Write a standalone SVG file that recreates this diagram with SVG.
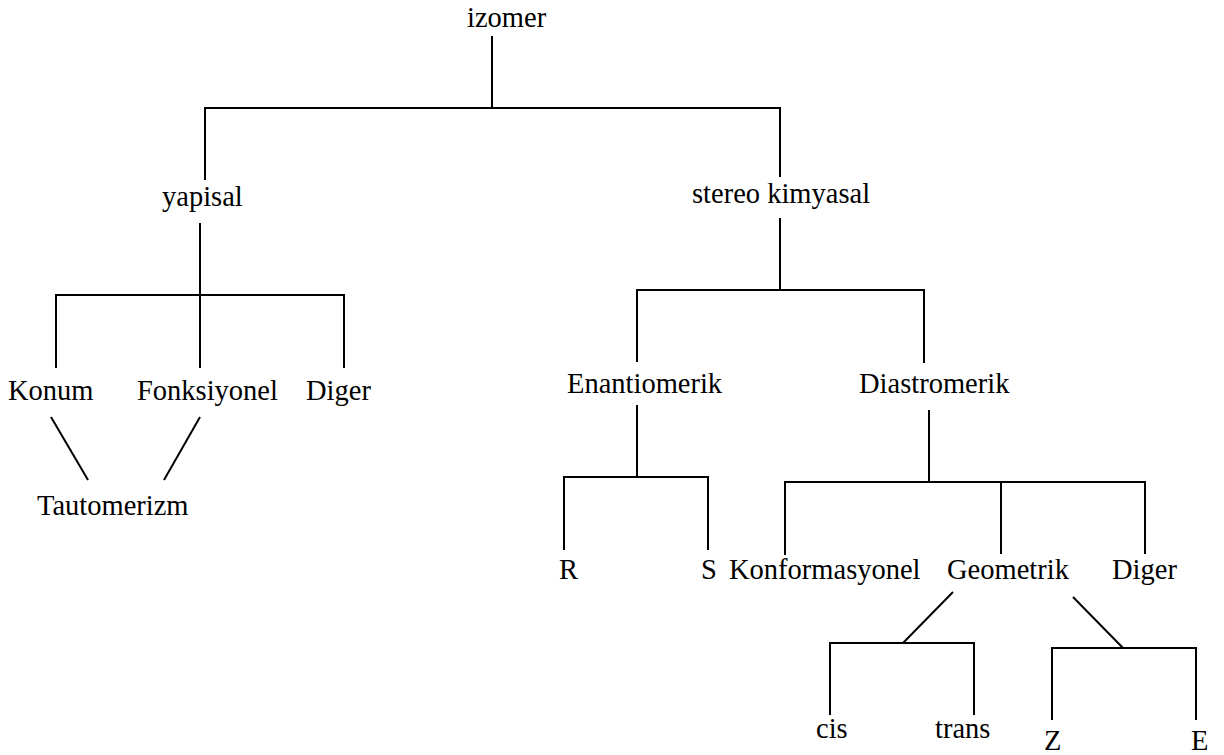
<svg xmlns="http://www.w3.org/2000/svg" width="1224" height="755" viewBox="0 0 1224 755">
<style>
text{font-family:"Liberation Serif","Times New Roman",serif;font-size:28.5px;fill:#000}
.c line,.c polyline{stroke:#000;stroke-width:2;fill:none}
</style>
<rect width="1224" height="755" fill="#fff"/>
<g class="c" id="connectors">
<line x1="492" y1="36" x2="492" y2="108"/>
<polyline points="205,180 205,108 780,108 780,177"/>
<line x1="200" y1="223" x2="200" y2="368"/>
<polyline points="56,368 56,295 344,295 344,368"/>
<line x1="51" y1="417" x2="88" y2="480"/>
<line x1="200" y1="417" x2="164" y2="480"/>
<line x1="780" y1="218" x2="780" y2="290"/>
<polyline points="637,362 637,290 924,290 924,363"/>
<line x1="637" y1="405" x2="637" y2="477"/>
<polyline points="564,550 564,477 708,477 708,550"/>
<line x1="929" y1="410" x2="929" y2="482"/>
<polyline points="785,555 785,482 1145,482 1145,554"/>
<line x1="1001" y1="482" x2="1001" y2="554"/>
<line x1="953" y1="592" x2="903" y2="643"/>
<polyline points="830,715 830,643 974,643 974,715"/>
<line x1="1073" y1="597" x2="1123" y2="648"/>
<polyline points="1052,720 1052,648 1196,648 1196,720"/>
</g>
<g id="izomer"><text x="467" y="27">izomer</text></g>
<g id="yapisal"><text x="162" y="206">yapisal</text></g>
<g id="stereo"><text x="692" y="203">stereo kimyasal</text></g>
<g id="konum"><text x="8" y="400">Konum</text></g>
<g id="fonksiyonel"><text x="137" y="400">Fonksiyonel</text></g>
<g id="diger1"><text x="306" y="400">Diger</text></g>
<g id="tautomerizm"><text x="37" y="515">Tautomerizm</text></g>
<g id="enantiomerik"><text x="567" y="393">Enantiomerik</text></g>
<g id="diastromerik"><text x="859" y="393">Diastromerik</text></g>
<g id="r"><text x="559" y="579">R</text></g>
<g id="s"><text x="701" y="579">S</text></g>
<g id="konformasyonel"><text x="729" y="579">Konformasyonel</text></g>
<g id="geometrik"><text x="947" y="579">Geometrik</text></g>
<g id="diger2"><text x="1112" y="579">Diger</text></g>
<g id="cis"><text x="816" y="738">cis</text></g>
<g id="trans"><text x="935" y="738">trans</text></g>
<g id="z"><text x="1044" y="750">Z</text></g>
<g id="e"><text x="1191" y="750">E</text></g>
</svg>
